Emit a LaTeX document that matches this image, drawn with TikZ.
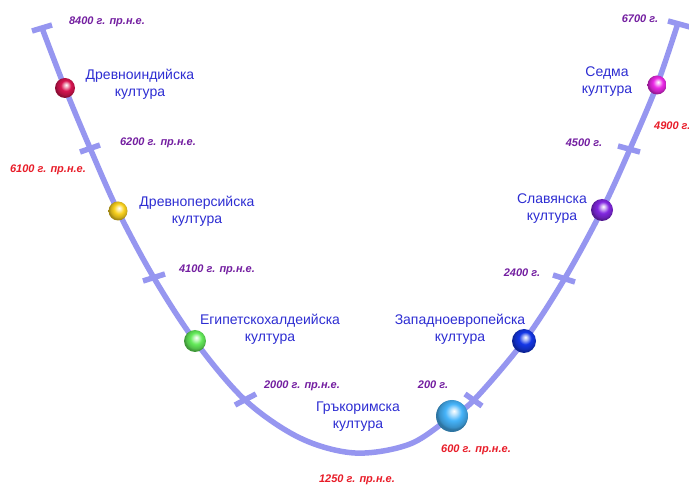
\documentclass[tikz,border=0pt]{standalone}
\usepackage{fontspec}
\setmainfont{Liberation Sans}
\definecolor{curvecol}{RGB}{150,150,240}
\definecolor{labblue}{RGB}{45,45,210}
\definecolor{datepurple}{RGB}{115,30,160}
\definecolor{datered}{RGB}{232,28,40}
\definecolor{ballred}{RGB}{215,20,80}
\definecolor{ballyellow}{RGB}{250,210,30}
\definecolor{ballgreen}{RGB}{100,235,90}
\definecolor{balllight}{RGB}{70,180,250}
\definecolor{balldark}{RGB}{20,55,230}
\definecolor{ballviolet}{RGB}{130,40,225}
\definecolor{ballmagenta}{RGB}{235,40,230}
\colorlet{ballc}{red}
\pgfdeclareradialshading[ballc]{glossyball}{\pgfpoint{3bp}{8bp}}{%
  color(0bp)=(white);
  color(5bp)=(ballc!35!white);
  color(13bp)=(ballc);
  color(22bp)=(ballc!80!black);
  color(25bp)=(ballc!65!black);
  color(50bp)=(ballc!65!black)}
\begin{document}
\begin{tikzpicture}[x=1pt,y=-1pt,
  curve/.style={draw=curvecol, line width=5.5pt},
  tickmark/.style={draw=curvecol, line width=5.5pt},
  culture/.style={text=labblue, font=\fontsize{14}{17}\selectfont, align=center, inner sep=0pt},
  datep/.style={text=datepurple, font=\fontsize{11}{12}\selectfont\bfseries\itshape, inner sep=0pt},
  dater/.style={datep, text=datered},
  ball/.style={circle, inner sep=0pt, /utils/exec={\colorlet{ballc}{#1}}, shading=glossyball}]
\useasboundingbox (0,0) rectangle (689,486);
% points along the curve
\coordinate (p0) at (42,28);
\coordinate (p1) at (65,88);
\coordinate (p2) at (90,148);
\coordinate (p3) at (118,211);
\coordinate (p4) at (154,278);
\coordinate (p5) at (195,341);
\coordinate (p6) at (245,400);
\coordinate (p7) at (300,438);
\coordinate (p8) at (355,453);
\coordinate (p9) at (410,444);
\coordinate (p10) at (452,416);
\coordinate (p11) at (474,400);
\coordinate (p12) at (524,341);
\coordinate (p13) at (565,278);
\coordinate (p14) at (602,210);
\coordinate (p15) at (630,149);
\coordinate (p16) at (657,85);
\coordinate (p17) at (678,23);
% the curve
\draw[curve] plot[smooth, tension=0.55] coordinates {(p0) (p1) (p2) (p3) (p4) (p5) (p6) (p7) (p8) (p9) (p10) (p11) (p12) (p13) (p14) (p15) (p16) (p17)};
% caps and ticks
\draw[tickmark] (32,31) -- (52,25);
\draw[tickmark] (80,152) -- (100,145);
\draw[tickmark] (143,281) -- (165,274);
\draw[tickmark] (235,405) -- (256,394);
\draw[tickmark] (465,394) -- (482,406);
\draw[tickmark] (553,275) -- (575,282);
\draw[tickmark] (618,146) -- (640,152);
\draw[tickmark] (668,21) -- (690,27);
% balls
\node[ball=ballred, minimum size=20pt] (b1) at (p1) {};
\node[ball=ballyellow, minimum size=19pt] (b2) at (p3) {};
\node[ball=ballgreen, minimum size=22pt] (b3) at (p5) {};
\node[ball=balllight, minimum size=32pt] (b4) at (p10) {};
\node[ball=balldark, minimum size=24pt] (b5) at (p12) {};
\node[ball=ballviolet, minimum size=22pt] (b6) at (p14) {};
\node[ball=ballmagenta, minimum size=19pt] (b7) at (p16) {};
% culture labels
\node[culture] (l1) at (140,84) {Древноиндийска\\култура};
\node[culture] (l2) at (197,211) {Древноперсийска\\култура};
\node[culture] (l3) at (270,329) {Египетскохалдеийска\\култура};
\node[culture] (l4) at (358,417) {Гръкоримска\\култура};
\node[culture] (l5) at (460,329) {Западноевропейска\\култура};
\node[culture] (l6) at (552,209) {Славянска\\култура};
\node[culture] (l7) at (607,82) {Седма\\култура};
% dates
\node[datep] (d1) at (107,22) {8400 г. пр.н.е.};
\node[datep] (d2) at (158,143) {6200 г. пр.н.е.};
\node[dater] (d3) at (48,170) {6100 г. пр.н.е.};
\node[datep] (d4) at (217,270) {4100 г. пр.н.е.};
\node[datep] (d5) at (302,386) {2000 г. пр.н.е.};
\node[dater] (d6) at (357,480) {1250 г. пр.н.е.};
\node[dater] (d7) at (476,450) {600 г. пр.н.е.};
\node[datep] (d8) at (433,385) {200 г.};
\node[datep] (d9) at (522,273) {2400 г.};
\node[datep] (d10) at (584,143) {4500 г.};
\node[dater, anchor=west] (d11) at (654,126) {4900 г.};
\node[datep] (d12) at (640,19) {6700 г.};
\end{tikzpicture}
\end{document}
